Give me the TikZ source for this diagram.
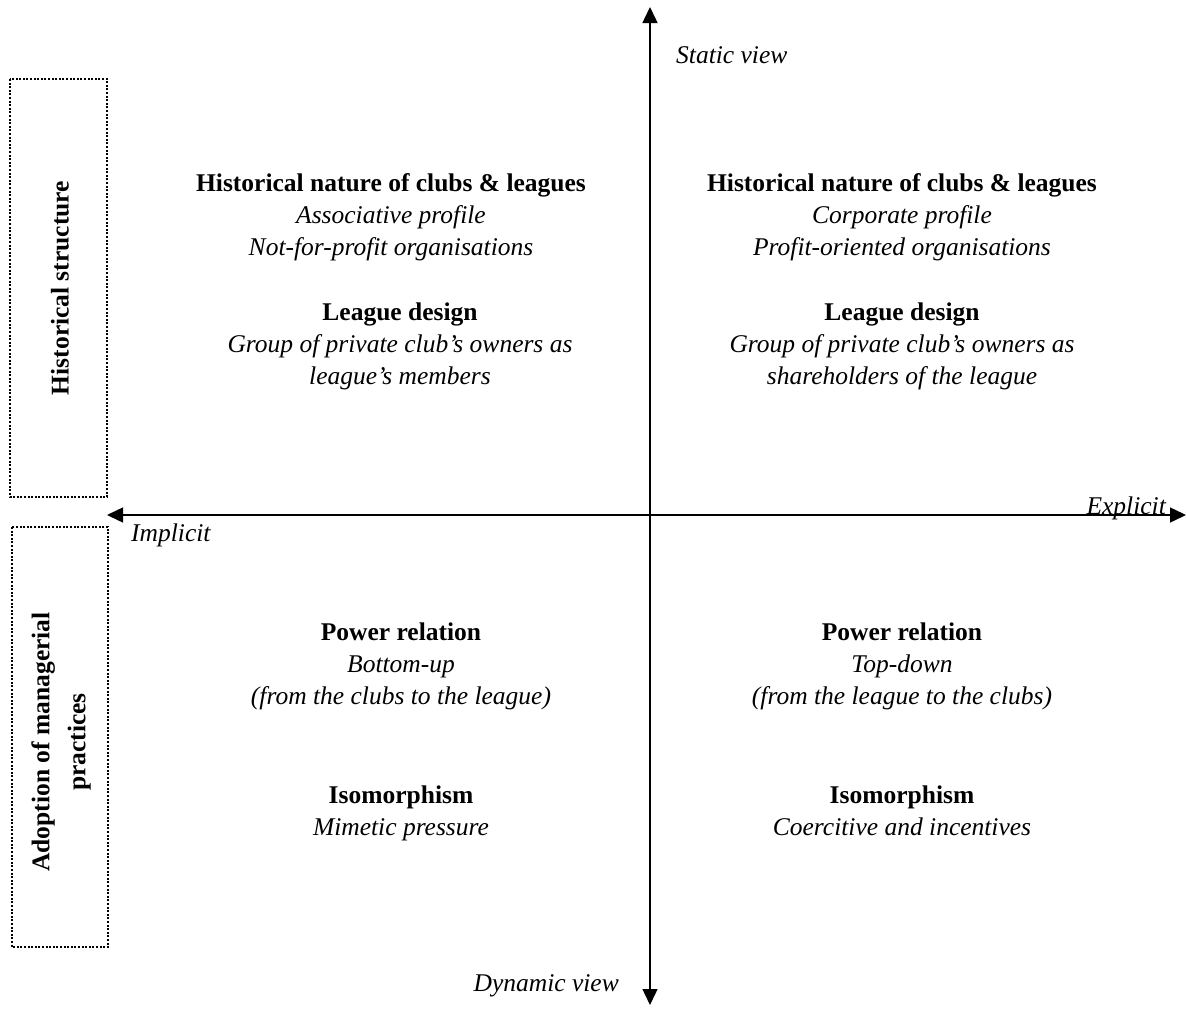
\documentclass[tikz,border=0pt]{standalone}
\usepackage{fontspec}
\setmainfont{Liberation Serif}
\usetikzlibrary{arrows.meta}
\begin{document}
\begin{tikzpicture}[x=1pt,y=-1pt,
  txt/.style={font=\fontsize{25.5}{32}\selectfont, align=center, inner sep=0pt},
  lbl/.style={font=\fontsize{25.5}{32}\selectfont\itshape, inner sep=0pt},
  boxlbl/.style={font=\fontsize{25.5}{36}\selectfont\bfseries, align=center, inner sep=0pt, rotate=90},
  dotbox/.style={draw, line width=2.2pt, dash pattern=on 2pt off 1.6pt},
  axis/.style={line width=1.4pt, -{Triangle[length=16pt,width=15pt]}}
]
\useasboundingbox (0,0) rectangle (1186,1009);

% axes
\coordinate (top) at (650,7);
\coordinate (bot) at (650,1005);
\coordinate (lft) at (107,515);
\coordinate (rgt) at (1186,515);
\coordinate (ctr) at (650,515);
\draw[axis] (ctr) -- (top);
\draw[axis] (ctr) -- (bot);
\draw[axis] (ctr) -- (lft);
\draw[axis] (ctr) -- (rgt);

% axis labels
\node[lbl, anchor=base west] (static) at (676,63) {Static view};
\node[lbl, anchor=base east] (dynamic) at (619,991) {Dynamic view};
\node[lbl, anchor=base west] (implicit) at (131,541) {Implicit};
\node[lbl, anchor=base east] (explicit) at (1166,514) {Explicit};

% left boxes
\draw[dotbox] (10,79) rectangle (107,497);
\node[boxlbl] (hs) at (60,288) {Historical structure};
\draw[dotbox] (12,527) rectangle (108,947);
\node[boxlbl] (amp) at (61,742) {Adoption of managerial\\practices};

% top-left quadrant
\node[txt] (tl1) at (391,217) {\textbf{Historical nature of clubs \& leagues}\\\textit{Associative profile}\\\textit{Not-for-profit organisations}};
\node[txt] (tl2) at (400,346) {\textbf{League design}\\\textit{Group of private club’s owners as}\\\textit{league’s members}};

% top-right quadrant
\node[txt] (tr1) at (902,217) {\textbf{Historical nature of clubs \& leagues}\\\textit{Corporate profile}\\\textit{Profit-oriented organisations}};
\node[txt] (tr2) at (902,346) {\textbf{League design}\\\textit{Group of private club’s owners as}\\\textit{shareholders of the league}};

% bottom-left quadrant
\node[txt] (bl1) at (401,666) {\textbf{Power relation}\\\textit{Bottom-up}\\\textit{(from the clubs to the league)}};
\node[txt] (bl2) at (401,813) {\textbf{Isomorphism}\\\textit{Mimetic pressure}};

% bottom-right quadrant
\node[txt] (br1) at (902,666) {\textbf{Power relation}\\\textit{Top-down}\\\textit{(from the league to the clubs)}};
\node[txt] (br2) at (902,811) {\textbf{Isomorphism}\\\textit{Coercitive and incentives}};
\end{tikzpicture}
\end{document}
